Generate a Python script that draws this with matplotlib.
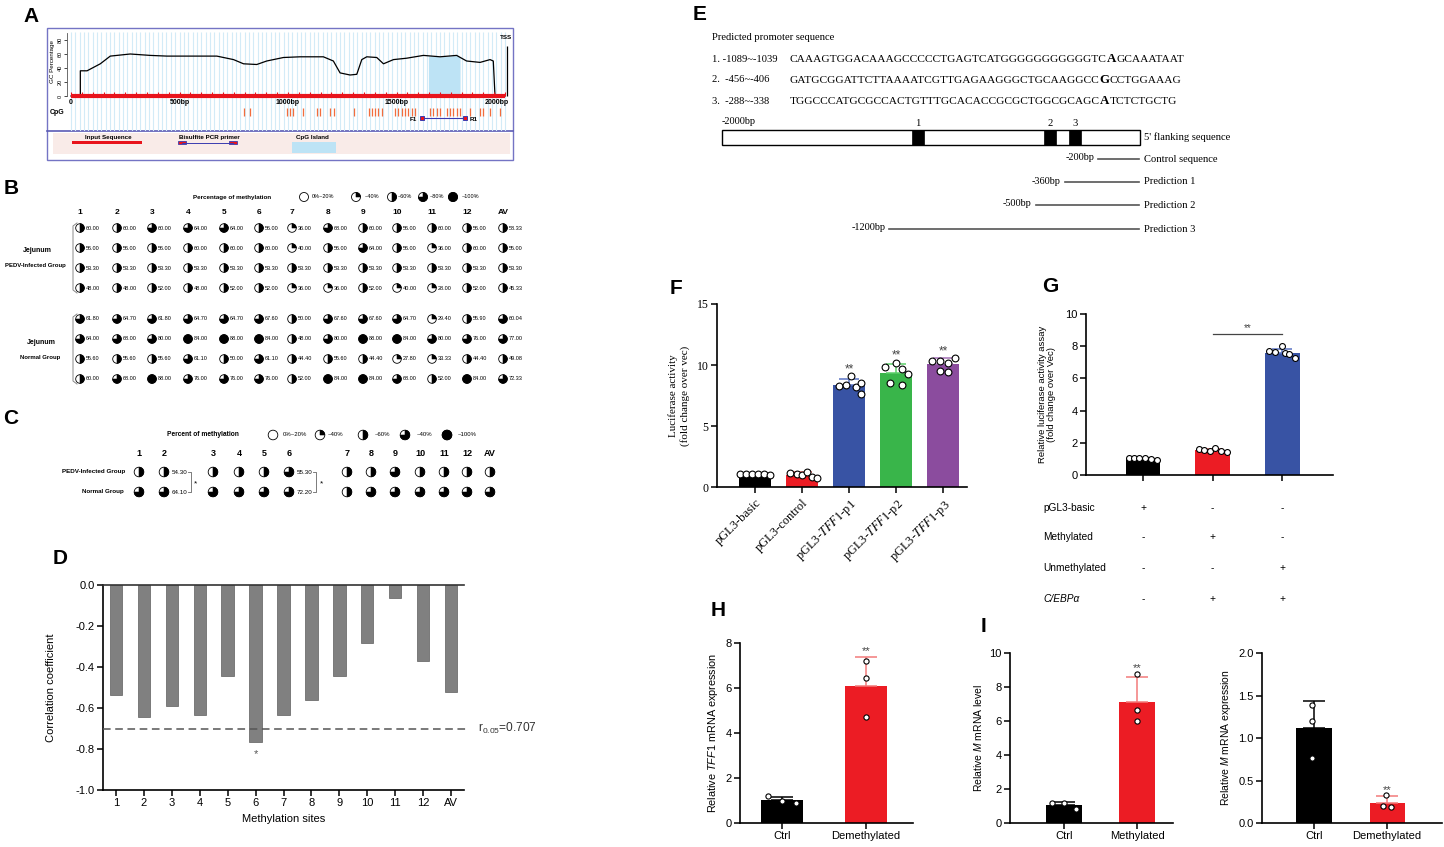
#!/usr/bin/env python3
import matplotlib

matplotlib.use("Agg")
import matplotlib.pyplot as plt
import numpy as np
from matplotlib.offsetbox import AnnotationBbox, HPacker, TextArea
from matplotlib.patches import Circle, Rectangle, Wedge
from matplotlib.transforms import blended_transform_factory

W, H = 1444, 847

plt.rcParams["font.family"] = ["Liberation Sans", "DejaVu Sans"]
plt.rcParams["axes.unicode_minus"] = False
plt.rcParams["mathtext.fontset"] = "custom"
plt.rcParams["mathtext.rm"] = "Liberation Sans"
plt.rcParams["mathtext.it"] = "Liberation Sans:italic"
plt.rcParams["mathtext.bf"] = "Liberation Sans:bold"
SERIF = ["Liberation Serif", "DejaVu Serif"]

# ---------------- values ----------------
# A: GC content of the 2000 bp upstream region
GC_BP = [43, 74, 135, 181, 273, 365, 442, 596, 672, 749, 795, 856, 902, 979,
         1056, 1163, 1209, 1240, 1286, 1317, 1340, 1363, 1409, 1440, 1486,
         1547, 1624, 1701, 1777, 1823, 1885, 1931, 1946]
GC_PCT = [36, 36, 46, 57, 60, 58, 57, 57, 57, 52, 46, 45, 50, 55, 56, 56,
          50, 33, 30, 31, 52, 56, 55, 46, 52, 54, 58, 56, 58, 50, 48, 52, 50]
GC_END_BP = 1954
TSS_BP = 2007
CPG_SITES = [795, 826, 995, 1010, 1025, 1071, 1133, 1148, 1194, 1210, 1302,
             1371, 1386, 1401, 1417, 1432, 1494, 1509, 1524, 1540, 1555, 1570,
             1586, 1655, 1670, 1685, 1701, 1731, 1747, 1762, 1778, 1793, 1839,
             1885, 1900, 1931, 1977]
ISLAND_BP = [1647, 1793]
PRIMER_BP = [1616, 1816]
A_TICK_BP = [0, 500, 1000, 1500, 2000]
A_TICK_LABELS = ["0", "500bp", "1000bp", "1500bp", "2000bp"]

# B: methylation (%) per CpG site, four animals per group
SITES = ["1", "2", "3", "4", "5", "6", "7", "8", "9", "10", "11", "12", "AV"]
PEDV_METH = [
    [60.00, 60.00, 60.00, 64.00, 64.00, 56.00, 36.00, 68.00, 60.00, 56.00, 60.00, 56.00, 58.33],
    [56.00, 56.00, 56.00, 60.00, 60.00, 60.00, 40.00, 56.00, 64.00, 56.00, 36.00, 60.00, 55.00],
    [53.30, 53.30, 53.30, 53.30, 53.30, 53.30, 53.30, 53.30, 53.30, 53.30, 53.30, 53.30, 53.30],
    [48.00, 48.00, 52.00, 48.00, 52.00, 52.00, 36.00, 36.00, 52.00, 40.00, 28.00, 52.00, 45.33],
]
NORMAL_METH = [
    [61.80, 64.70, 61.80, 64.70, 64.70, 67.60, 50.00, 67.60, 67.60, 64.70, 29.40, 55.90, 60.04],
    [64.00, 68.00, 80.00, 84.00, 88.00, 84.00, 48.00, 80.00, 88.00, 84.00, 80.00, 76.00, 77.00],
    [55.60, 55.60, 55.60, 61.10, 50.00, 61.10, 44.40, 55.60, 44.40, 27.80, 33.33, 44.40, 49.08],
    [60.00, 68.00, 88.00, 76.00, 76.00, 76.00, 52.00, 84.00, 84.00, 68.00, 52.00, 84.00, 72.33],
]
PEDV_ICON_FIX = {(0, 2): 3}  # drawn as ~80% in the source although it reads 60.00
B_LEGEND = ["0%~20%", "~40%", "~60%", "~80%", "~100%"]

# C: group means as methylation classes (0 = 0-20% ... 4 = ~100%)
C_PEDV_LEVEL = [2, 2, 2, 2, 2, 3, 2, 2, 3, 2, 2, 2, 2]
C_NORMAL_LEVEL = [3, 3, 3, 3, 3, 3, 2, 3, 3, 3, 3, 3, 3]
C_MARKED = {1: ("54.30", "64.10"), 5: ("55.30", "72.20")}
C_LEGEND = ["0%~20%", "~40%", "~60%", "~40%", "~100%"]

# D: correlation of methylation with expression
D_CORR = [-0.537, -0.646, -0.589, -0.633, -0.446, -0.764, -0.636, -0.559,
          -0.446, -0.281, -0.065, -0.372, -0.522]
D_THRESHOLD = -0.70
D_STAR_SITE = 5
D_YTICKS = [-1.0, -0.8, -0.6, -0.4, -0.2, 0.0]
D_YTICK_LABELS = ["-1.0", "-0.8", "-0.6", "-0.4", "-0.2", "0.0"]

# E: predicted promoter elements
E_SITE_RANGES = [(-1089, -1039), (-456, -406), (-288, -338)]
E_SITE_TEXT = ["1. -1089~-1039", "2.  -456~-406", "3.  -288~-338"]
E_SEQ = [
    ("CAAAGTGGACAAAGCCCCCTGAGTCATGGGGGGGGGGGTC", "A", "GCAAATAAT"),
    ("GATGCGGATTCTTAAAATCGTTGAGAAGGGCTGCAAGGCC", "G", "CCTGGAAAG"),
    ("TGGCCCATGCGCCACTGTTTGCACACCGCGCTGGCGCAGC", "A", "TCTCTGCTG"),
]
E_CONSTRUCTS = ["Control sequence", "Prediction 1", "Prediction 2", "Prediction 3"]
E_CONSTRUCT_BP = [-200, -360, -500, -1200]

# F: luciferase activity of promoter constructs
F_GROUPS = ["pGL3-basic", "pGL3-control", "pGL3-$\\mathit{TFF1}$-p1",
            "pGL3-$\\mathit{TFF1}$-p2", "pGL3-$\\mathit{TFF1}$-p3"]
F_VALUES = [
    [1.05, 1.05, 1.05, 1.08, 1.05, 0.98],
    [1.15, 1.05, 1.00, 1.25, 0.80, 0.70],
    [8.3, 8.4, 9.1, 8.2, 8.5, 7.6],
    [9.8, 8.5, 10.2, 8.4, 9.7, 9.3],
    [10.3, 9.5, 10.3, 9.4, 10.2, 10.6],
]
F_SIG = ["", "", "**", "**", "**"]

# G: methylated vs unmethylated reporter with C/EBPa
G_VALUES = [
    [1.05, 1.05, 1.05, 1.05, 0.98, 0.95],
    [1.60, 1.56, 1.51, 1.68, 1.49, 1.43],
    [7.68, 7.61, 7.99, 7.57, 7.53, 7.26],
]
G_ROWS = ["pGL3-basic", "Methylated", "Unmethylated", "C/EBPα"]
G_SIGNS = [["+", "-", "-"], ["-", "+", "-"], ["-", "-", "+"], ["-", "+", "+"]]
G_SIG_Y = 8.76

# H, I: qPCR
H_GROUPS = ["Ctrl", "Demethylated"]
H_VALUES = [[1.18, 1.00, 0.88], [7.19, 6.44, 4.70]]
I1_GROUPS = ["Ctrl", "Methylated"]
I1_VALUES = [[1.18, 1.18, 0.84], [8.78, 6.67, 5.98]]
I2_GROUPS = ["Ctrl", "Demethylated"]
I2_VALUES = [[1.384, 1.204, 0.765], [0.325, 0.196, 0.188]]

# ---------------- layout / style ----------------
BLACK, RED, BLUE, GREEN, PURPLE = "#000000", "#ec1c24", "#3853a4", "#39b54a", "#8b4c9e"
LIGHT_RED = "#f37a7a"

fig = plt.figure(figsize=(W / 100, H / 100), dpi=100)
canvas = fig.add_axes([0, 0, 1, 1])
canvas.set_xlim(0, W)
canvas.set_ylim(H, 0)
canvas.axis("off")


def px_axes(x0, y0, x1, y1):
    ax = fig.add_axes([x0 / W, 1 - y1 / H, (x1 - x0) / W, (y1 - y0) / H])
    ax.patch.set_alpha(0)
    return ax


def level_of(value):
    for k, upper in enumerate((20, 40, 60, 80)):
        if value <= upper:
            return k
    return 4


def icon(x, y, k, r=4.3):
    canvas.add_patch(Circle((x, y), r, fc="white", ec="black", lw=0.6))
    if k == 4:
        canvas.add_patch(Circle((x, y), r, fc="black", ec="black", lw=0.6))
    elif k > 0:
        # canvas y axis points down, so this sweeps clockwise from 12 o'clock
        canvas.add_patch(Wedge((x, y), r, -90, -90 + 90 * k, fc="black", ec="black", lw=0.4))


def panel_letter(x, y, letter):
    canvas.text(x, y, letter, fontsize=15, fontweight="bold", ha="center", va="center")


def style_axes(ax, ylim, yticks, labelsize=8):
    ax.set_ylim(*ylim)
    ax.set_yticks(yticks)
    for side in ("top", "right"):
        ax.spines[side].set_visible(False)
    for side in ("left", "bottom"):
        ax.spines[side].set_linewidth(1.2)
    ax.tick_params(width=1.1, length=4, labelsize=labelsize, pad=2)


def dot_bars(ax, values, colors, err_colors, width, dx, dot_size, capsize):
    tops = []
    for i, vals in enumerate(values):
        vals = np.asarray(vals, dtype=float)
        mean, sd = vals.mean(), vals.std(ddof=1)
        ax.bar(i, mean, width, color=colors[i], zorder=2)
        ax.errorbar(i, mean, yerr=[[0], [sd]], fmt="none", ecolor=err_colors[i],
                    elinewidth=1.1, capsize=capsize, capthick=1.1, zorder=3)
        ax.scatter(i + np.asarray(dx[i]), vals, s=dot_size, facecolor="white",
                   edgecolor="black", linewidth=0.8, zorder=4, clip_on=False)
        tops.append(max(vals.max(), mean + sd))
    return tops


def stars(ax, x, y, text="**", size=8):
    ax.annotate(text, (x, y), xytext=(0, 0.5), textcoords="offset points",
                ha="center", va="bottom", fontsize=size, color="#444444")


# ================= A =================
panel_letter(31, 16, "A")
canvas.add_patch(Rectangle((47, 28), 466, 132, fill=False, ec="#7474c4", lw=1.0))
canvas.plot([47, 513], [131.5, 131.5], color="#5b5bb5", lw=1.2)
canvas.add_patch(Rectangle((53, 133), 457, 21, fc="#f9ebe8", ec="none"))

axA = px_axes(67, 32, 509, 131)
axA.set_xlim((67 - 71) / 0.217, (509 - 71) / 0.217)
axA.set_ylim((96 - 131) / 0.7, (96 - 32) / 0.7)
axA.vlines(np.arange(0, 2001, 20), -50, 92, color="#d3ebf7", lw=0.8, zorder=0)
curve_x = [0, GC_BP[0]] + GC_BP + [GC_END_BP, 2000]
curve_y = [0, 0] + GC_PCT + [0, 0]
fill_x = np.linspace(ISLAND_BP[0], ISLAND_BP[1], 40)
axA.fill_between(fill_x, 0, np.interp(fill_x, curve_x, curve_y), color="#bde3f5", lw=0, zorder=1)
axA.plot(curve_x, curve_y, color="black", lw=0.9, zorder=3)
axA.plot([0, 2000], [0, 0], color="#e8141c", lw=3, solid_capstyle="butt", zorder=4)
axA.vlines(np.arange(0, 2001, 50), 0, 5, color="#e8141c", lw=0.8, zorder=4)
axA.vlines(TSS_BP, 0, 72, color="black", lw=0.9, zorder=3)
axA.text(TSS_BP - 2, 80, "TSS", fontsize=4.5, fontweight="bold", ha="center", va="bottom")
axA.vlines(CPG_SITES, -29, -17, color="#f26d3d", lw=0.9, zorder=3)
axA.plot(PRIMER_BP, [-32, -32], color="#3b3bb0", lw=0.8, zorder=3)
axA.plot(PRIMER_BP, [-32, -32], ls="none", marker="s", ms=3.5, mfc="#e8141c", mec="#3b3bb0", mew=0.7, zorder=4)
axA.text(PRIMER_BP[0] - 22, -33, "F1", fontsize=4.5, fontweight="bold", ha="right", va="center")
axA.text(PRIMER_BP[1] + 20, -33, "R1", fontsize=4.5, fontweight="bold", ha="left", va="center")
for bp, lab in zip(A_TICK_BP, A_TICK_LABELS):
    last = bp == A_TICK_BP[-1]
    axA.text(2018 if last else bp, -10, lab, fontsize=5, fontweight="bold",
             ha="right" if last else "center", va="center")
for side in ("top", "right", "bottom"):
    axA.spines[side].set_visible(False)
axA.spines["left"].set_bounds(0, 90)
axA.spines["left"].set_linewidth(0.6)
axA.spines["left"].set_color("#555555")
axA.set_xticks([])
axA.set_yticks([0, 20, 40, 60, 80])
axA.set_yticklabels(["0", "20", "40", "60", "80"], rotation=90, va="center")
axA.tick_params(axis="y", length=2, width=0.5, labelsize=4, pad=1)
axA.set_ylabel("GC Percentage", fontsize=4.5, labelpad=1)
axA.yaxis.set_label_coords(-0.028, 0.7)
canvas.text(50, 112, "CpG", fontsize=5, fontweight="bold", ha="left", va="center")

canvas.text(108, 137, "Input Sequence", fontsize=4.5, fontweight="bold", ha="center", va="center")
canvas.add_patch(Rectangle((72, 141), 70, 3, fc="#e8141c", ec="none"))
canvas.text(209, 137, "Bisulfite PCR primer", fontsize=4.5, fontweight="bold", ha="center", va="center")
canvas.plot([182, 233], [143, 143], color="#3b3bb0", lw=0.7)
for x0 in (178, 229):
    canvas.add_patch(Rectangle((x0, 141.5), 8, 3, fc="#e8141c", ec="#3b3bb0", lw=0.6))
canvas.text(312, 137, "CpG Island", fontsize=4.5, fontweight="bold", ha="center", va="center")
canvas.add_patch(Rectangle((292, 142), 44, 11, fc="#bde3f5", ec="none"))

# ================= B =================
panel_letter(11, 188, "B")
B_COL_X = [80, 117, 152, 188, 224, 259, 292, 328, 363, 397, 432, 467, 503]
B_PEDV_Y = [228, 248, 268, 288]
B_NORMAL_Y = [319, 339, 359, 379]
canvas.text(193, 197, "Percentage of methylation", fontsize=4.5, fontweight="bold", ha="left", va="center")
for k, (ix, tx, lab) in enumerate(zip([304, 356, 392, 423, 453], [312, 365, 398, 430, 462], B_LEGEND)):
    icon(ix, 197, k, r=4.5)
    canvas.text(tx, 197, lab, fontsize=4, ha="left", va="center")
for x, lab in zip(B_COL_X, SITES):
    canvas.text(x, 212, lab, fontsize=6, fontweight="bold", ha="center", va="center")
for rows, ys, fix in ((PEDV_METH, B_PEDV_Y, PEDV_ICON_FIX), (NORMAL_METH, B_NORMAL_Y, {})):
    for r, (vals, y) in enumerate(zip(rows, ys)):
        for c, (x, v) in enumerate(zip(B_COL_X, vals)):
            icon(x, y, fix.get((r, c), level_of(v)))
            canvas.text(x + 6, y, f"{v:.2f}", fontsize=4, ha="left", va="center")
    canvas.plot([77, 73, 73, 77], [ys[0] - 5, ys[0] - 2, ys[-1] + 2, ys[-1] + 5], color="#888888", lw=0.7)
canvas.text(37, 251, "Jejunum", fontsize=5, fontweight="bold", ha="center", va="center")
canvas.text(35, 266, "PEDV-Infected Group", fontsize=4.3, fontweight="bold", ha="center", va="center")
canvas.text(41, 342, "Jejunum", fontsize=5, fontweight="bold", ha="center", va="center")
canvas.text(40, 357, "Normal Group", fontsize=4.3, fontweight="bold", ha="center", va="center")

# ================= C =================
panel_letter(11, 418, "C")
C_COL_X = [139, 164, 213, 239, 264, 289, 347, 371, 395, 420, 444, 467, 490]
C_ROW_Y = [472, 492]
canvas.text(167, 435, "Percent of methylation", fontsize=4.8, fontweight="bold", ha="left", va="center")
for k, (ix, tx, lab) in enumerate(zip([273, 320, 363, 405, 447], [283, 328, 375, 417, 458], C_LEGEND)):
    icon(ix, 435, k, r=4.8)
    canvas.text(tx, 435, lab, fontsize=4.3, ha="left", va="center")
for x, lab in zip(C_COL_X, SITES):
    canvas.text(x, 453, lab, fontsize=6.5, fontweight="bold", ha="center", va="center")
for x, kp, kn in zip(C_COL_X, C_PEDV_LEVEL, C_NORMAL_LEVEL):
    icon(x, C_ROW_Y[0], kp, r=4.8)
    icon(x, C_ROW_Y[1], kn, r=4.8)
for col, (top_lab, bot_lab) in C_MARKED.items():
    x = C_COL_X[col] + 8
    canvas.text(x, C_ROW_Y[0], top_lab, fontsize=4.5, ha="left", va="center")
    canvas.text(x, C_ROW_Y[1], bot_lab, fontsize=4.5, ha="left", va="center")
    bx = x + 19
    canvas.plot([bx - 3, bx, bx, bx - 3], [C_ROW_Y[0], C_ROW_Y[0], C_ROW_Y[1], C_ROW_Y[1]], color="#666666", lw=0.6)
    canvas.text(bx + 5, (C_ROW_Y[0] + C_ROW_Y[1]) / 2 + 2, "*", fontsize=6, ha="center", va="center")
canvas.text(125, C_ROW_Y[0], "PEDV-Infected Group", fontsize=4.5, fontweight="bold", ha="right", va="center")
canvas.text(124, C_ROW_Y[1], "Normal Group", fontsize=4.5, fontweight="bold", ha="right", va="center")

# ================= D =================
panel_letter(60, 558, "D")
axD = px_axes(103, 585, 464, 790)
xd = np.arange(len(SITES))
axD.bar(xd, D_CORR, 0.45, color="#808080", edgecolor="#5e5e5e", lw=0.5, zorder=2)
axD.axhline(D_THRESHOLD, xmax=1.01, color="#555555", ls=(0, (5, 3)), lw=1.1, clip_on=False, zorder=3)
axD.text(1.04, D_THRESHOLD, "r$_{0.05}$=0.707", transform=blended_transform_factory(axD.transAxes, axD.transData),
         fontsize=8.6, ha="left", va="center", color="#333333")
axD.text(D_STAR_SITE, D_CORR[D_STAR_SITE] - 0.035, "*", fontsize=8, ha="center", va="top", color="#555555")
axD.set_xlim(-0.47, len(SITES) - 0.53)
axD.set_ylim(-1.0, 0.0)
axD.set_yticks(D_YTICKS)
axD.set_yticklabels(D_YTICK_LABELS)
axD.set_xticks(xd)
axD.set_xticklabels(SITES)
axD.spines["right"].set_visible(False)
for side in ("left", "bottom", "top"):
    axD.spines[side].set_linewidth(1.2)
axD.spines["top"].set_color("#333333")
axD.tick_params(width=1.1, length=4, labelsize=8, pad=2)
axD.set_xlabel("Methylation sites", fontsize=8, labelpad=4)
axD.set_ylabel("Correlation coefficient", fontsize=8, labelpad=14)

# ================= E =================
panel_letter(700, 15, "E")
canvas.text(712, 38, "Predicted promoter sequence", fontfamily=SERIF, fontsize=7.6, ha="left", va="center")
seq_props = dict(fontfamily=SERIF, fontsize=8.2)
key_props = dict(fontfamily=SERIF, fontsize=9.4, fontweight="bold")
for y, site, (pre, key, post) in zip([59, 80, 101], E_SITE_TEXT, E_SEQ):
    canvas.text(712, y, site, fontfamily=SERIF, fontsize=7.6, ha="left", va="center")
    row = HPacker(children=[TextArea(pre, textprops=seq_props), TextArea(key, textprops=key_props),
                            TextArea(post, textprops=seq_props)], align="baseline", pad=0, sep=0)
    canvas.add_artist(AnnotationBbox(row, (790, y), xycoords="data", box_alignment=(0, 0.5),
                                     frameon=False, pad=0))

E_X0, E_PX_PER_BP = 1140, 418 / 2000


def e_px(bp):
    return E_X0 + bp * E_PX_PER_BP


canvas.add_patch(Rectangle((e_px(-2000), 130), 2000 * E_PX_PER_BP, 15, fc="white", ec="black", lw=1))
for i, (a, b) in enumerate(E_SITE_RANGES):
    mid = e_px((a + b) / 2)
    canvas.add_patch(Rectangle((mid - 6, 130), 12, 15, fc="black", ec="black", lw=0.5))
    canvas.text(mid, 123, str(i + 1), fontfamily=SERIF, fontsize=7.6, ha="center", va="center")
canvas.text(e_px(-2000), 121, "-2000bp", fontfamily=SERIF, fontsize=7.4, ha="left", va="center")
canvas.text(1144, 137, "5' flanking sequence", fontfamily=SERIF, fontsize=7.6, ha="left", va="center")
for y, name, bp in zip([159, 182, 205, 229], E_CONSTRUCTS, E_CONSTRUCT_BP):
    canvas.plot([e_px(bp), 1139], [y, y], color="#555555", lw=1.2)
    canvas.text(e_px(bp) - 4, y - 1, f"{bp}bp", fontfamily=SERIF, fontsize=7.4, ha="right", va="center")
    canvas.text(1144, y, name, fontfamily=SERIF, fontsize=7.6, ha="left", va="center")

# ================= F =================
panel_letter(676, 288, "F")
axF = px_axes(717, 304, 967, 487)
f_dx = [[-0.32, -0.19, -0.06, 0.06, 0.19, 0.32],
        [-0.25, -0.11, 0.0, 0.11, 0.21, 0.32],
        [-0.21, -0.06, 0.04, 0.15, 0.25, 0.25],
        [-0.23, -0.13, 0.0, 0.13, 0.13, 0.25],
        [-0.24, -0.07, -0.07, 0.1, 0.1, 0.25]]
f_colors = [BLACK, RED, BLUE, GREEN, PURPLE]
f_tops = dot_bars(axF, F_VALUES, f_colors, ["#333333", "#f26a6a", "#5b74c4", "#5ccf6a", "#a370b5"],
                  0.68, f_dx, 24, 7)
for i, (sig, top) in enumerate(zip(F_SIG, f_tops)):
    if sig:
        stars(axF, i, top, sig, 8.5)
style_axes(axF, (0, 15), [0, 5, 10, 15], 8.5)
axF.set_xlim(-0.8, 4.5)
axF.set_xticks(range(len(F_GROUPS)))
axF.set_xticklabels(F_GROUPS, rotation=45, ha="right", rotation_mode="anchor")
for lab in axF.get_xticklabels() + axF.get_yticklabels():
    lab.set_fontfamily(SERIF)
    lab.set_math_fontfamily("stix")
axF.tick_params(axis="x", labelsize=9, pad=3)
axF.set_ylabel("Luciferase activity\n(fold change over vec)", fontfamily=SERIF, fontsize=8, labelpad=5)

# ================= G =================
panel_letter(1050, 287, "G")
axG = px_axes(1086, 314, 1333, 475)
g_dx = [[-0.2, -0.13, -0.06, 0.03, 0.12, 0.2],
        [-0.2, -0.13, -0.04, 0.04, 0.12, 0.2],
        [-0.19, -0.11, 0.0, 0.04, 0.1, 0.19]]
dot_bars(axG, G_VALUES, [BLACK, RED, BLUE], ["#333333", "#f26a6a", "#5b74c4"], 0.5, g_dx, 18, 7)
axG.plot([1, 2], [G_SIG_Y, G_SIG_Y], color="#444444", lw=0.9)
stars(axG, 1.5, G_SIG_Y, "**", 7)
style_axes(axG, (0, 10), [0, 2, 4, 6, 8, 10], 8)
axG.set_xlim(-0.82, 2.73)
axG.set_xticks(range(len(G_VALUES)))
axG.set_xticklabels([])
axG.set_ylabel("Relative luciferase activity assay\n(fold change over Vec)", fontsize=6.8, labelpad=7, linespacing=1.0)
g_tr = blended_transform_factory(axG.transData, canvas.transData)
for y, name, signs in zip([508, 537, 568, 599], G_ROWS, G_SIGNS):
    canvas.text(1043, y, name, fontsize=7.3, ha="left", va="center",
                fontstyle="italic" if name.startswith("C/") else "normal")
    for i, s in enumerate(signs):
        axG.text(i, y, s, transform=g_tr, fontsize=7.3, ha="center", va="center", clip_on=False)

# ================= H =================
panel_letter(718, 610, "H")
axH = px_axes(740, 643, 913, 823)
h_tops = dot_bars(axH, H_VALUES, [BLACK, RED], [BLACK, LIGHT_RED], 0.5,
                  [[-0.17, 0.0, 0.17], [0.0, 0.0, 0.0]], 14, 8)
stars(axH, 1, h_tops[1], "**", 8)
style_axes(axH, (0, 8), [0, 2, 4, 6, 8], 8)
axH.set_xlim(-0.5, 1.56)
axH.set_xticks([0, 1])
axH.set_xticklabels(H_GROUPS, fontsize=8)
axH.set_ylabel("Relative $TFF1$ mRNA expression", fontsize=7.8, labelpad=4)

# ================= I =================
panel_letter(983, 626, "I")
axI1 = px_axes(1010, 653, 1173, 823)
i1_tops = dot_bars(axI1, I1_VALUES, [BLACK, RED], [BLACK, LIGHT_RED], 0.5,
                   [[-0.17, 0.0, 0.16], [0.0, 0.0, 0.0]], 14, 8)
stars(axI1, 1, i1_tops[1], "**", 8)
style_axes(axI1, (0, 10), [0, 2, 4, 6, 8, 10], 8)
axI1.set_xlim(-0.74, 1.49)
axI1.set_xticks([0, 1])
axI1.set_xticklabels(I1_GROUPS, fontsize=8)
axI1.set_ylabel("Relative $M$ mRNA level", fontsize=7.5, labelpad=4)

axI2 = px_axes(1262, 653, 1442, 823)
i2_tops = dot_bars(axI2, I2_VALUES, [BLACK, RED], [BLACK, LIGHT_RED], 0.48,
                   [[-0.02, -0.02, -0.02], [-0.01, -0.06, 0.05]], 14, 8)
stars(axI2, 1, i2_tops[1], "**", 8)
style_axes(axI2, (0, 2), [0.0, 0.5, 1.0, 1.5, 2.0], 8)
axI2.set_yticklabels(["0.0", "0.5", "1.0", "1.5", "2.0"])
axI2.set_xlim(-0.71, 1.75)
axI2.set_xticks([0, 1])
axI2.set_xticklabels(I2_GROUPS, fontsize=8)
axI2.set_ylabel("Relative $M$ mRNA expression", fontsize=7.5, labelpad=4)

fig.savefig("out.png", dpi=100)
